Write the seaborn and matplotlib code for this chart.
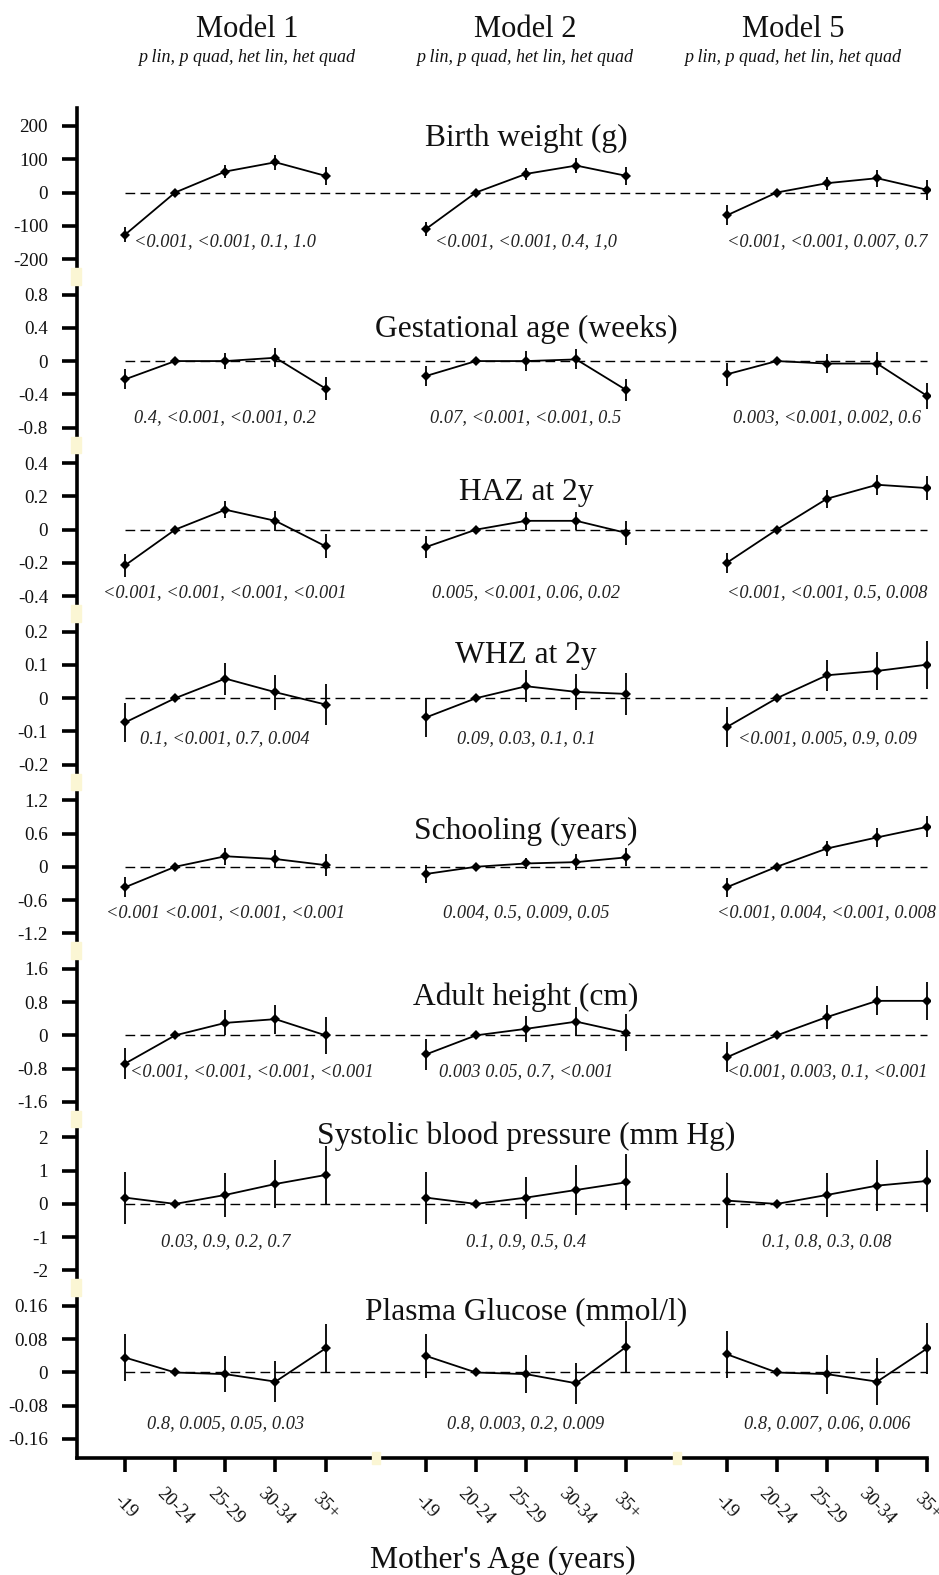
import matplotlib
matplotlib.use("Agg")
import matplotlib.pyplot as plt
from matplotlib.patches import Rectangle
import pandas as pd
import seaborn as sns

# ---------------------------------------------------------------- data
ages = ["-19", "20-24", "25-29", "30-34", "35+"]
models = ["Model 1", "Model 2", "Model 5"]
pvalue_header = "p lin, p quad, het lin, het quad"
xlabel = "Mother's Age (years)"

titles = ["Birth weight (g)", "Gestational age (weeks)", "HAZ at 2y", "WHZ at 2y",
          "Schooling (years)", "Adult height (cm)", "Systolic blood pressure (mm Hg)",
          "Plasma Glucose (mmol/l)"]

bw_ticks = [200, 100, 0, -100, -200]
bw_est = [[-127, 0, 63, 91, 50], [-110, 0, 56, 81, 50], [-69, 0, 28, 43, 8]]
bw_err = [[22, 0, 20, 22, 27], [22, 0, 17, 23, 26], [30, 0, 19, 25, 30]]
bw_p = ["<0.001, <0.001, 0.1, 1.0", "<0.001, <0.001, 0.4, 1,0", "<0.001, <0.001, 0.007, 0.7"]

ga_ticks = [0.8, 0.4, 0, -0.4, -0.8]
ga_est = [[-0.22, 0, 0.0, 0.04, -0.33], [-0.18, 0, 0.0, 0.02, -0.35], [-0.16, 0, -0.03, -0.03, -0.42]]
ga_err = [[0.12, 0, 0.10, 0.115, 0.135], [0.12, 0, 0.12, 0.12, 0.13], [0.135, 0, 0.11, 0.14, 0.16]]
ga_p = ["0.4, <0.001, <0.001, 0.2", "0.07, <0.001, <0.001, 0.5", "0.003, <0.001, 0.002, 0.6"]

haz_ticks = [0.4, 0.2, 0, -0.2, -0.4]
haz_est = [[-0.215, 0, 0.12, 0.053, -0.10], [-0.105, 0, 0.053, 0.053, -0.02], [-0.20, 0, 0.186, 0.27, 0.25]]
haz_err = [[0.068, 0, 0.05, 0.06, 0.073], [0.064, 0, 0.054, 0.054, 0.07], [0.06, 0, 0.054, 0.06, 0.073]]
haz_p = ["<0.001, <0.001, <0.001, <0.001", "0.005, <0.001, 0.06, 0.02", "<0.001, <0.001, 0.5, 0.008"]

whz_ticks = [0.2, 0.1, 0, -0.1, -0.2]
whz_est = [[-0.073, 0, 0.059, 0.018, -0.019], [-0.058, 0, 0.036, 0.019, 0.013], [-0.087, 0, 0.069, 0.082, 0.101]]
whz_err = [[0.059, 0, 0.048, 0.052, 0.063], [0.058, 0, 0.048, 0.054, 0.064], [0.06, 0, 0.046, 0.057, 0.072]]
whz_p = ["0.1, <0.001, 0.7, 0.004", "0.09, 0.03, 0.1, 0.1", "<0.001, 0.005, 0.9, 0.09"]

school_ticks = [1.2, 0.6, 0, -0.6, -1.2]
school_est = [[-0.37, 0, 0.19, 0.14, 0.03], [-0.13, 0, 0.06, 0.084, 0.17], [-0.37, 0, 0.33, 0.53, 0.72]]
school_err = [[0.18, 0, 0.15, 0.17, 0.2], [0.16, 0, 0.1, 0.14, 0.16], [0.17, 0, 0.14, 0.17, 0.19]]
school_p = ["<0.001 <0.001, <0.001, <0.001", "0.004, 0.5, 0.009, 0.05", "<0.001, 0.004, <0.001, 0.008"]

height_ticks = [1.6, 0.8, 0, -0.8, -1.6]
height_est = [[-0.68, 0, 0.30, 0.39, 0.0], [-0.46, 0, 0.157, 0.33, 0.063], [-0.53, 0, 0.44, 0.83, 0.83]]
height_err = [[0.38, 0, 0.3, 0.35, 0.44], [0.38, 0, 0.31, 0.35, 0.44], [0.36, 0, 0.29, 0.35, 0.45]]
height_p = ["<0.001, <0.001, <0.001, <0.001", "0.003 0.05, 0.7, <0.001", "<0.001, 0.003, 0.1, <0.001"]

sbp_ticks = [2, 1, 0, -1, -2]
sbp_est = [[0.19, 0, 0.27, 0.6, 0.87], [0.19, 0, 0.19, 0.42, 0.65], [0.10, 0, 0.27, 0.55, 0.69]]
sbp_err = [[0.78, 0, 0.65, 0.72, 0.86], [0.78, 0, 0.63, 0.75, 0.84], [0.82, 0, 0.67, 0.77, 0.94]]
sbp_p = ["0.03, 0.9, 0.2, 0.7", "0.1, 0.9, 0.5, 0.4", "0.1, 0.8, 0.3, 0.08"]

glucose_ticks = [0.16, 0.08, 0, -0.08, -0.16]
glucose_est = [[0.036, 0, -0.004, -0.022, 0.058], [0.04, 0, -0.004, -0.026, 0.062], [0.044, 0, -0.004, -0.022, 0.058]]
glucose_err = [[0.056, 0, 0.043, 0.05, 0.059], [0.053, 0, 0.046, 0.05, 0.062], [0.057, 0, 0.047, 0.056, 0.062]]
glucose_p = ["0.8, 0.005, 0.05, 0.03", "0.8, 0.003, 0.2, 0.009", "0.8, 0.007, 0.06, 0.006"]

panels = [
    (bw_ticks, bw_est, bw_err, bw_p),
    (ga_ticks, ga_est, ga_err, ga_p),
    (haz_ticks, haz_est, haz_err, haz_p),
    (whz_ticks, whz_est, whz_err, whz_p),
    (school_ticks, school_est, school_err, school_p),
    (height_ticks, height_est, height_err, height_p),
    (sbp_ticks, sbp_est, sbp_err, sbp_p),
    (glucose_ticks, glucose_est, glucose_err, glucose_p),
]

# ---------------------------------------------------------------- layout
# baseline heights (data units) of the panel titles and the p-value notes
title_y = [141, 0.286, 0.177, 0.107, 0.496, 0.734, 1.79, 0.129]
note_y = [-161, -0.74, -0.406, -0.134, -0.91, -0.974, -1.28, -0.134]
# notes drawn left-aligned from a given x instead of centred on the group
note_left = {(5, 0): 0.1}

sns.set_style("white")
plt.rcParams["font.family"] = ["Liberation Serif", "DejaVu Serif"]
plt.rcParams["axes.unicode_minus"] = False

W, H, DPI = 939, 1575, 100
fig = plt.figure(figsize=(W / DPI, H / DPI), dpi=DPI)
fig.patch.set_facecolor("white")

X0_PX, X_UNIT = 125.0, 50.14      # pixel of the first category, pixels per slot
AX_L, AX_R = 77.0, 930.0
GROUP = len(ages) + 1              # one empty slot between model groups
XMAX_POS = GROUP * (len(models) - 1) + len(ages) - 1
xmin = -(X0_PX - AX_L) / X_UNIT
xmax = XMAX_POS + (AX_R - (X0_PX + XMAX_POS * X_UNIT)) / X_UNIT

TOP0, STEP, SPAN = 126.0, 168.57, 133.0
AXIS_Y = 1458.0
SPINE_W = 2.6
GAP_COLOR = "#fbf6d4"
INK = "#111111"

ax_extents = []
n = len(panels)
for k, (ticks, est, err, pv) in enumerate(panels):
    T = TOP0 + STEP * k
    B = T + SPAN
    ax_top = T - (18 if k == 0 else 10)
    ax_bot = AXIS_Y if k == n - 1 else B + 9
    ax_extents.append((ax_top, ax_bot))
    ax = fig.add_axes([AX_L / W, 1 - ax_bot / H, (AX_R - AX_L) / W, (ax_bot - ax_top) / H])
    ax.set_facecolor("none")

    vt, vb = ticks[0], ticks[-1]
    ppu = SPAN / (vt - vb)
    ax.set_ylim(vb - (ax_bot - B) / ppu, vt + (T - ax_top) / ppu)
    ax.set_xlim(xmin, xmax)

    rows = []
    for m, model in enumerate(models):
        for i, age in enumerate(ages):
            rows.append({"model": model, "age": age, "pos": GROUP * m + i,
                         "est": est[m][i], "err": err[m][i]})
    df = pd.DataFrame(rows)

    # reference line at zero
    ax.plot([df["pos"].min(), df["pos"].max()], [0, 0], color="black", lw=1.0,
            dashes=(7, 3.8), zorder=1)

    # confidence intervals
    ci = df[df["err"] > 0]
    ax.vlines(ci["pos"], ci["est"] - ci["err"], ci["est"] + ci["err"],
              color="black", lw=1.3, zorder=2)

    # estimates joined within each model
    sns.lineplot(data=df, x="pos", y="est", units="model", estimator=None,
                 color="black", lw=1.3, marker="D", markersize=5,
                 markeredgewidth=0, sort=False, legend=False, ax=ax, zorder=3)

    ax.set_xlabel("")
    ax.set_ylabel("")
    ax.text(GROUP + (len(ages) - 1) / 2, title_y[k], titles[k], ha="center",
            va="baseline", fontsize=22.7, color=INK)
    for m in range(len(models)):
        if (k, m) in note_left:
            ax.text(GROUP * m + note_left[(k, m)], note_y[k], pv[m], ha="left",
                    va="baseline", style="italic", fontsize=13.2, color="#222222")
        else:
            ax.text(GROUP * m + (len(ages) - 1) / 2, note_y[k], pv[m], ha="center",
                    va="baseline", style="italic", fontsize=13.2, color="#222222")

    sns.despine(ax=ax, bottom=(k < n - 1))
    ax.spines["left"].set_linewidth(SPINE_W)
    ax.spines["left"].set_color("black")
    ax.set_yticks(ticks)
    ax.set_yticklabels([f"{v:g}" for v in ticks])
    ax.tick_params(axis="y", left=True, length=10.8, width=SPINE_W, pad=10,
                   labelsize=13.8, color="black", labelcolor=INK)
    if k < n - 1:
        ax.set_xticks([])
    else:
        ax.spines["bottom"].set_linewidth(SPINE_W)
        ax.spines["bottom"].set_color("black")
        ax.spines["bottom"].set_bounds(xmin, XMAX_POS)
        ax.set_xticks(df["pos"].tolist())
        ax.set_xticklabels(df["age"].tolist(), rotation=-45, ha="center",
                           va="center", rotation_mode="anchor")
        ax.tick_params(axis="x", bottom=True, length=10, width=SPINE_W, pad=25,
                       labelsize=13.5, color="black", labelcolor=INK)
        # small breaks in the age axis between model groups
        for m in range(1, len(models)):
            gx = X0_PX + (GROUP * m - 1) * X_UNIT
            fig.add_artist(Rectangle(((gx - 4) / W, 1 - (AXIS_Y + 6) / H), 8 / W, 12 / H,
                                     transform=fig.transFigure, color=GAP_COLOR,
                                     zorder=20))

# breaks in the value axis between panels
for k in range(n - 1):
    g0 = ax_extents[k][1]
    g1 = ax_extents[k + 1][0]
    fig.add_artist(Rectangle((71 / W, 1 - g1 / H), 10 / W, (g1 - g0) / H,
                             transform=fig.transFigure, color=GAP_COLOR, zorder=20))

# column headers
header_x = [247, 525, 793]
for m, model in enumerate(models):
    fig.text(header_x[m] / W, 1 - 37 / H, model, ha="center", va="baseline",
             fontsize=22, color=INK)
    fig.text(header_x[m] / W, 1 - 62 / H, pvalue_header, ha="center", va="baseline",
             fontsize=13, style="italic", color=INK)

fig.text(503 / W, 1 - 1568 / H, xlabel, ha="center", va="baseline", fontsize=22.8,
         color=INK)

fig.savefig("out.png", dpi=DPI, facecolor="white")
